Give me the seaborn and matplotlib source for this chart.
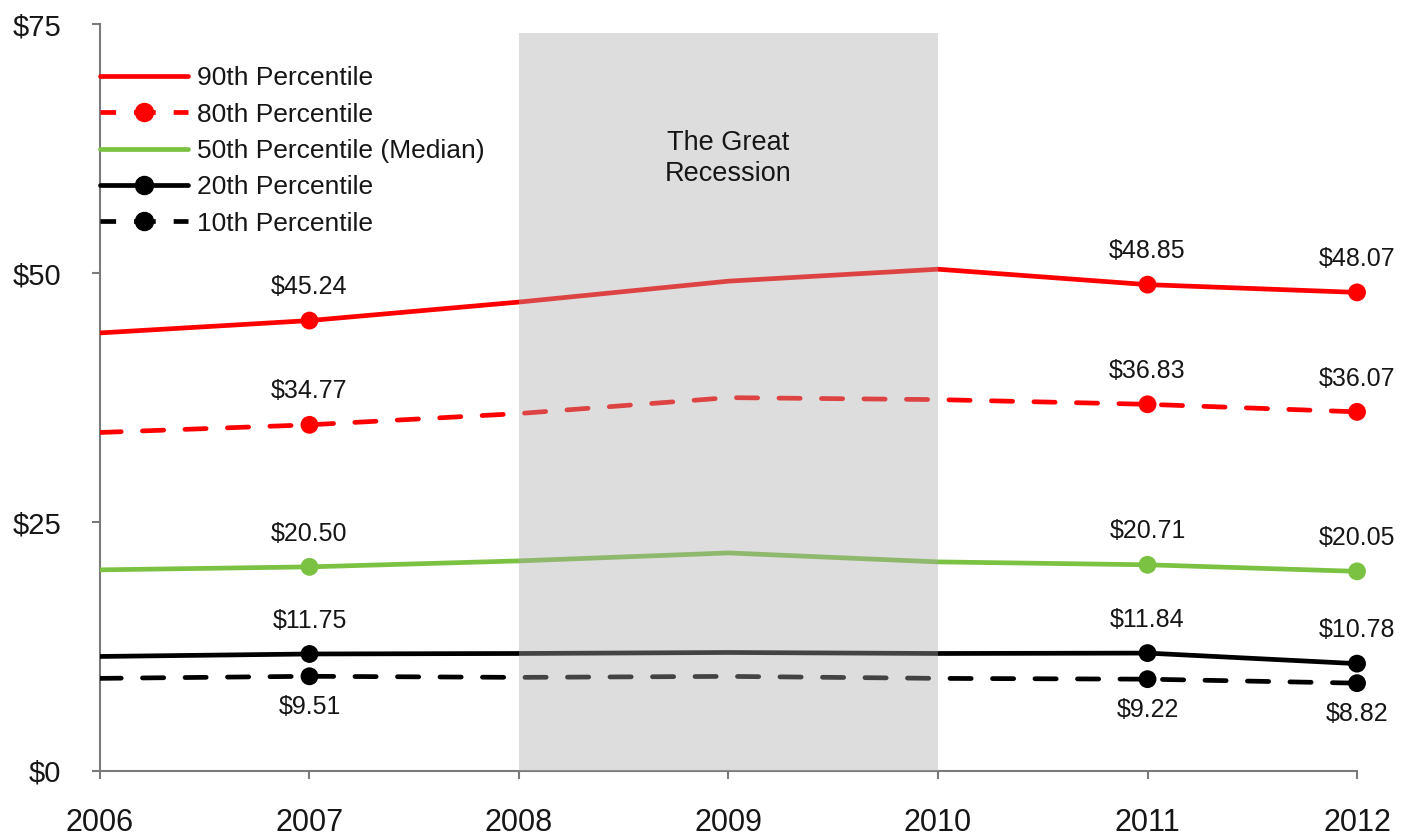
import matplotlib
matplotlib.use("Agg")
import matplotlib.pyplot as plt
from matplotlib.lines import Line2D
import seaborn as sns
import pandas as pd

years = [2006, 2007, 2008, 2009, 2010, 2011, 2012]
p90 = [44.0, 45.24, 47.1, 49.2, 50.4, 48.85, 48.07]
p80 = [34.0, 34.77, 35.9, 37.5, 37.3, 36.83, 36.07]
p50 = [20.2, 20.50, 21.1, 21.9, 21.0, 20.71, 20.05]
p20 = [11.5, 11.75, 11.8, 11.9, 11.8, 11.84, 10.78]
p10 = [9.3, 9.51, 9.4, 9.5, 9.3, 9.22, 8.82]

labelled_years = [2007, 2011, 2012]
series_names = ["90th Percentile", "80th Percentile", "50th Percentile (Median)",
                "20th Percentile", "10th Percentile"]
y_ticks = [0, 25, 50, 75]
y_tick_labels = ["$0", "$25", "$50", "$75"]
recession = (2008, 2010)
recession_text = "The Great\nRecession"

RED = "#ff0000"
GREEN = "#7cc242"
BLACK = "#000000"
TEXT = "#161616"
AXIS = "#7a7a7a"

DASH = (0, (4.5, 4.5))
# symmetric dash pattern so the legend marker sits on the middle dash
LEGEND_DASH = (0, (3.3, 3.8, 4.6, 3.8, 3.3, 10))

styles = [
    dict(values=p90, color=RED, ls="-", legend_marker=False, below=False),
    dict(values=p80, color=RED, ls=DASH, legend_marker=True, below=False),
    dict(values=p50, color=GREEN, ls="-", legend_marker=False, below=False),
    dict(values=p20, color=BLACK, ls="-", legend_marker=True, below=False),
    dict(values=p10, color=BLACK, ls=DASH, legend_marker=True, below=True),
]

sns.set_theme(style="white")
plt.rcParams["font.family"] = ["Liberation Sans", "DejaVu Sans"]

fig = plt.figure(figsize=(14.18, 8.38), dpi=100)
ax = fig.add_axes([0.0705, 0.08, 0.8865, 0.891])

LW = 3.4
handles = []
for name, st in zip(series_names, styles):
    df = pd.DataFrame({"year": years, "value": st["values"]})
    sns.lineplot(data=df, x="year", y="value", ax=ax, color=st["color"],
                 linestyle=st["ls"], linewidth=LW, zorder=3,
                 solid_capstyle="round", dash_capstyle="round")
    pts = df[df["year"].isin(labelled_years)]
    sns.scatterplot(data=pts, x="year", y="value", ax=ax, color=st["color"],
                    s=165, edgecolor="none", zorder=4, clip_on=False)
    for _, r in pts.iterrows():
        off = -22 if st["below"] else 24
        ax.annotate(f"${r['value']:.2f}", (r["year"], r["value"]),
                    xytext=(0, off), textcoords="offset points",
                    ha="center", va="center", fontsize=18, color=TEXT,
                    zorder=6)
    handles.append(Line2D([0], [0], color=st["color"],
                          linestyle=LEGEND_DASH if st["ls"] != "-" else "-",
                          linewidth=LW,
                          marker="o" if st["legend_marker"] else None,
                          markersize=13))

# shaded recession band, drawn over the lines so they appear muted inside it
ax.fill_between(list(recession), 0, 74.1, color="#aaaaaa", alpha=0.4,
                linewidth=0, zorder=5)
ax.text(sum(recession) / 2, 61.5, recession_text, ha="center", va="center",
        fontsize=19.5, color=TEXT, zorder=6, linespacing=1.25)

ax.set_xlim(2006, 2012)
ax.set_ylim(0, 75)
ax.set_xticks(years)
ax.set_xticklabels([str(y) for y in years], fontsize=22, color=TEXT)
ax.set_yticks(y_ticks)
ax.set_yticklabels(y_tick_labels, fontsize=21, color=TEXT)
ax.set_xlabel("")
ax.set_ylabel("")
ax.tick_params(axis="x", direction="out", length=6, width=1.5, color=AXIS,
               pad=21, bottom=True)
ax.tick_params(axis="y", direction="out", length=6, width=1.5, color=AXIS,
               pad=22, left=True)
for side in ["top", "right"]:
    ax.spines[side].set_visible(False)
for side in ["left", "bottom"]:
    ax.spines[side].set_color(AXIS)
    ax.spines[side].set_linewidth(1.5)
ax.grid(False)

leg = ax.legend(handles, series_names, loc="upper left",
                bbox_to_anchor=(0.0, 0.944), frameon=False, fontsize=19,
                handlelength=3.35, handletextpad=0.34, labelspacing=0.47,
                borderaxespad=0, borderpad=0)
for t in leg.get_texts():
    t.set_color(TEXT)
leg.set_zorder(7)

fig.savefig("out.png", dpi=100, facecolor="white")
